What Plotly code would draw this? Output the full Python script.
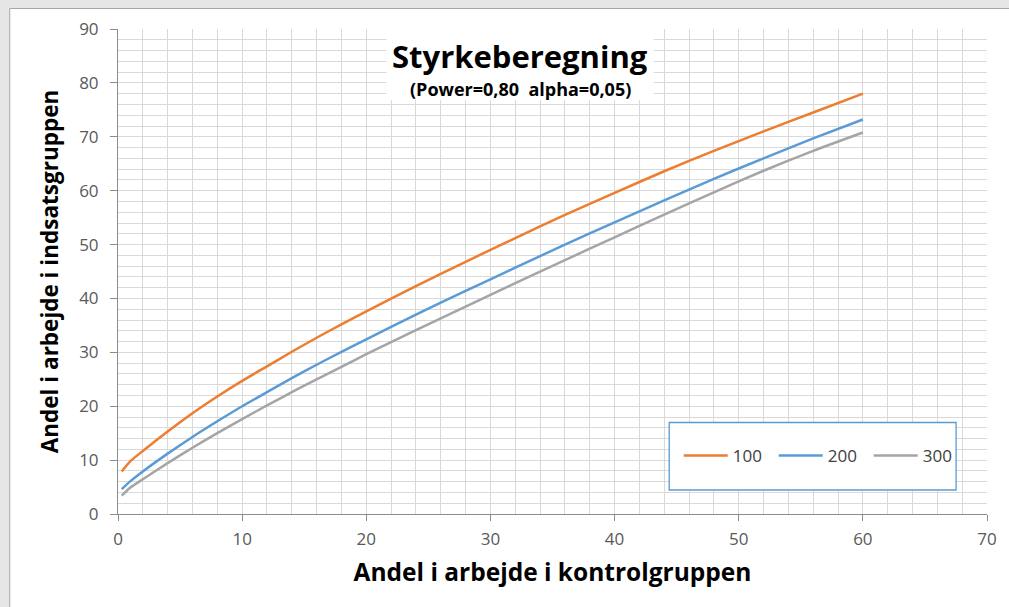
import plotly.graph_objects as go

# Andel i arbejde i kontrolgruppen (%)
x_kontrol = [0.3, 1, 2, 4, 6, 8, 10, 12, 14, 16, 18, 20, 24, 28, 32, 36, 40, 44, 48, 52, 56, 60]
# Andel i arbejde i indsatsgruppen (%) for n = 100, 200, 300
y_100 = [7.9, 9.8, 11.7, 15.3, 18.7, 21.8, 24.7, 27.4, 30.1, 32.7, 35.2, 37.6, 42.3, 46.8, 51.2, 55.5, 59.6, 63.6, 67.4, 71.0, 74.5, 78.0]
y_200 = [4.6, 6.1, 7.9, 11.2, 14.3, 17.2, 20.0, 22.6, 25.2, 27.7, 30.1, 32.4, 37.0, 41.4, 45.7, 50.0, 54.1, 58.2, 62.2, 66.0, 69.7, 73.2]
y_300 = [3.4, 4.9, 6.45, 9.45, 12.3, 15.0, 17.6, 20.15, 22.6, 25.0, 27.3, 29.65, 34.1, 38.5, 42.85, 47.1, 51.35, 55.55, 59.7, 63.7, 67.4, 70.8]
series_names = ["100", "200", "300"]
series_colors = ["#ED7D31", "#5B9BD5", "#A5A5A5"]

title_text = "Styrkeberegning"
subtitle_text = "(Power=0,80&nbsp;&nbsp;alpha=0,05)"
x_title = "Andel i arbejde i kontrolgruppen"
y_title = "Andel i arbejde i indsatsgruppen"

FONT = "Open Sans"
W, H = 1009, 607
L, R, T, B = 118, 20, 29, 93
PW, PH = W - L - R, H - T - B


def px_x(p):
    return (p - L) / PW


def px_y(p):
    return (H - B - p) / PH


fig = go.Figure()
for name, ys, col in zip(series_names, [y_100, y_200, y_300], series_colors):
    fig.add_trace(go.Scatter(
        x=x_kontrol, y=ys, name=name, mode="lines",
        line=dict(color=col, width=2.5, shape="spline", smoothing=0.6),
    ))

grid_col = "#D9D9D9"
axis_col = "#8C8C8C"
tick_font = dict(family=FONT, size=17, color="#595959")

fig.update_xaxes(
    range=[0, 70], dtick=10, tick0=0,
    showgrid=True, gridcolor=grid_col, gridwidth=1,
    minor=dict(dtick=2, showgrid=True, gridcolor=grid_col, gridwidth=1),
    showline=True, linecolor=axis_col, linewidth=1,
    ticks="outside", ticklen=6, tickcolor=axis_col, ticklabelstandoff=4,
    zeroline=False, tickfont=tick_font,
    title=dict(text=f"<b>{x_title}</b>", font=dict(family=FONT, size=24.5, color="#000000"), standoff=14),
)
fig.update_yaxes(
    range=[0, 90], dtick=10, tick0=0,
    showgrid=True, gridcolor=grid_col, gridwidth=1,
    minor=dict(dtick=2, showgrid=True, gridcolor=grid_col, gridwidth=1),
    showline=True, linecolor=axis_col, linewidth=1,
    ticks="outside", ticklen=7, tickcolor=axis_col, ticklabelstandoff=8,
    zeroline=False, tickfont=tick_font,
    title=dict(text=f"<b>{y_title}</b>", font=dict(family=FONT, size=22.5, color="#000000"), standoff=14),
)

shapes = [
    # outer grey frame
    dict(type="rect", xref="paper", yref="paper", x0=-0.5, x1=1.5, y0=px_y(8.5), y1=1.2,
         fillcolor="#E6E6E6", line=dict(width=0), layer="below"),
    dict(type="rect", xref="paper", yref="paper", x0=-0.5, x1=px_x(9.5), y0=-0.5, y1=1.2,
         fillcolor="#E6E6E6", line=dict(width=0), layer="below"),
    dict(type="line", xref="paper", yref="paper", x0=px_x(9.5), x1=1.5, y0=px_y(8.5), y1=px_y(8.5),
         line=dict(color="#A6A6A6", width=1), layer="below"),
    dict(type="line", xref="paper", yref="paper", x0=px_x(9.5), x1=px_x(9.5), y0=-0.5, y1=px_y(8.5),
         line=dict(color="#A6A6A6", width=1), layer="below"),
    # white box behind title
    dict(type="rect", xref="paper", yref="paper", x0=px_x(387), x1=px_x(655), y0=px_y(100), y1=1.0,
         fillcolor="white", line=dict(width=0), layer="above"),
    # legend box
    dict(type="rect", xref="paper", yref="paper", x0=px_x(670.5), x1=px_x(958), y0=px_y(490), y1=px_y(422.5),
         fillcolor="white", line=dict(color="#5B9BD5", width=1.3), layer="above"),
]

annotations = [
    dict(text=f"<b>{title_text}</b>", xref="paper", yref="paper", x=px_x(521), y=px_y(56),
         xanchor="center", yanchor="middle", showarrow=False,
         font=dict(family=FONT, size=31, color="#000000")),
    dict(text=f"<b>{subtitle_text}</b>", xref="paper", yref="paper", x=px_x(521), y=px_y(89),
         xanchor="center", yanchor="middle", showarrow=False,
         font=dict(family=FONT, size=18, color="#000000")),
]

fig.update_layout(
    width=W, height=H,
    margin=dict(l=L, r=R, t=T, b=B, pad=0),
    paper_bgcolor="white", plot_bgcolor="white",
    shapes=shapes, annotations=annotations,
    showlegend=True,
    legend=dict(
        orientation="h", x=px_x(680), y=px_y(456), xanchor="left", yanchor="middle",
        bgcolor="rgba(0,0,0,0)", borderwidth=0,
        font=dict(family=FONT, size=17, color="#404040"),
        entrywidth=36, itemwidth=44,
    ),
    font=dict(family=FONT),
)

fig.write_html(
    "out.html",
    config={"displayModeBar": False},
    post_script="document.body.style.margin='0px';document.body.style.overflow='hidden';",
)
